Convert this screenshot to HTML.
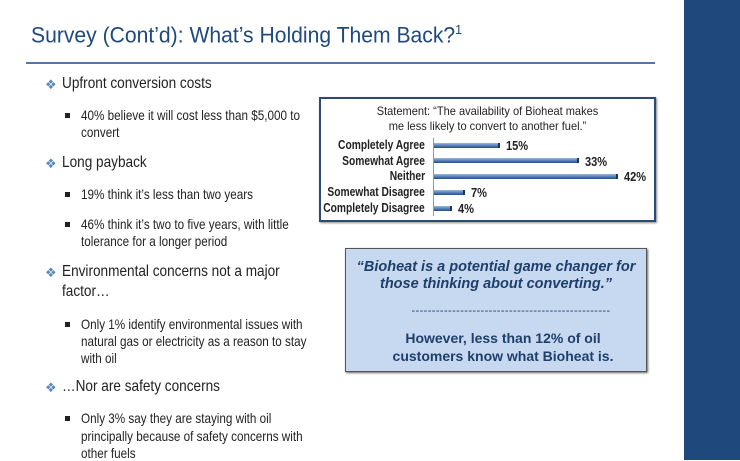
<!DOCTYPE html>
<html><head><meta charset="utf-8"><style>
body{margin:0;width:740px;height:460px;background:#fff;position:relative;overflow:hidden;font-family:"Liberation Sans",sans-serif}
.t{position:absolute;white-space:nowrap;transform-origin:0 50%;color:#222}
.b1{font-size:16px;line-height:16px;transform:scaleX(0.85)}
.b2{font-size:14px;line-height:14px;transform:scaleX(0.835)}
.d{position:absolute;color:#5b87b8;font-size:13px;line-height:13px}
.sq{position:absolute;width:5px;height:5px;background:#222}
.lab{position:absolute;right:315px;font-weight:bold;font-size:12.5px;line-height:12px;white-space:nowrap;transform:scaleX(0.82);transform-origin:100% 50%;color:#222}
.bar{position:absolute;left:434px;height:5px;background:linear-gradient(#9ab8de,#4a78b5 60%,#2a4f80);border-right:2px solid #1d3550}
.val{position:absolute;font-weight:bold;font-size:13px;line-height:12px;transform:scaleX(0.85);transform-origin:0 50%;color:#222}
</style></head><body>
<div style="position:absolute;left:684px;top:0;width:56px;height:460px;background:#1f497d"></div>
<div class="t" style="left:31px;top:19px;font-size:22px;line-height:22px;color:#1f497d;transform:scaleX(0.96)">Survey (Cont’d): What’s Holding Them Back?<sup style="font-size:13px">1</sup></div>
<div style="position:absolute;left:26px;top:62px;width:629px;height:2px;background:#4f77a8"></div>

<div class="d" style="left:45px;top:78px">❖</div><div class="t b1" style="left:62px;top:76px">Upfront conversion costs</div>
<div class="sq" style="left:65px;top:113px"></div>
<div class="t b2" style="left:81px;top:108px">40% believe it will cost less than $5,000 to</div>
<div class="t b2" style="left:81px;top:125px">convert</div>
<div class="d" style="left:45px;top:157px">❖</div><div class="t b1" style="left:62px;top:155px">Long payback</div>
<div class="sq" style="left:65px;top:192px"></div>
<div class="t b2" style="left:81px;top:187px">19% think it’s less than two years</div>
<div class="sq" style="left:65px;top:222px"></div>
<div class="t b2" style="left:81px;top:217px">46% think it’s two to five years, with little</div>
<div class="t b2" style="left:81px;top:234px">tolerance for a longer period</div>
<div class="d" style="left:45px;top:266px">❖</div><div class="t b1" style="left:62px;top:264px">Environmental concerns not a major</div>
<div class="t b1" style="left:62px;top:284px">factor…</div>
<div class="sq" style="left:65px;top:322px"></div>
<div class="t b2" style="left:81px;top:317px">Only 1% identify environmental issues with</div>
<div class="t b2" style="left:81px;top:334px">natural gas or electricity as a reason to stay</div>
<div class="t b2" style="left:81px;top:351px">with oil</div>
<div class="d" style="left:45px;top:381px">❖</div><div class="t b1" style="left:62px;top:379px">…Nor are safety concerns</div>
<div class="sq" style="left:65px;top:416px"></div>
<div class="t b2" style="left:81px;top:411px">Only 3% say they are staying with oil</div>
<div class="t b2" style="left:81px;top:429px">principally because of safety concerns with</div>
<div class="t b2" style="left:81px;top:446px">other fuels</div>

<div style="position:absolute;left:319px;top:97px;width:333px;height:121px;border:2px solid #2a4a7a;box-shadow:1px 1px 2px #888"></div>
<div style="position:absolute;left:321px;top:104px;width:333px;text-align:center;font-size:12px;line-height:15px;color:#222;transform:scaleX(0.92)">Statement: “The availability of Bioheat makes<br>me less likely to convert to another fuel.”</div>
<div style="position:absolute;left:433px;top:138px;width:1px;height:78px;background:#999"></div>
<div class="lab" style="top:139px">Completely Agree</div><div class="bar" style="top:143px;width:64px"></div><div class="val" style="left:506px;top:140px">15%</div>
<div class="lab" style="top:155px">Somewhat Agree</div><div class="bar" style="top:158px;width:143px"></div><div class="val" style="left:585px;top:156px">33%</div>
<div class="lab" style="top:170px">Neither</div><div class="bar" style="top:174px;width:182px"></div><div class="val" style="left:624px;top:171px">42%</div>
<div class="lab" style="top:186px">Somewhat Disagree</div><div class="bar" style="top:190px;width:29px"></div><div class="val" style="left:471px;top:187px">7%</div>
<div class="lab" style="top:202px">Completely Disagree</div><div class="bar" style="top:206px;width:16px"></div><div class="val" style="left:458px;top:203px">4%</div>

<div style="position:absolute;left:345px;top:248px;width:300px;height:122px;background:#c6d9f1;border:1px solid #555;box-shadow:1px 1px 2px #666"></div>
<div style="position:absolute;left:345px;top:259px;width:302px;text-align:center;font-weight:bold;font-style:italic;font-size:14.5px;line-height:17px;color:#1f3f6a">“Bioheat is a potential game changer for<br>those thinking about converting.”</div>
<div style="position:absolute;left:360px;top:305px;width:302px;text-align:center;font-size:11px;color:#1f3f6a;letter-spacing:0.4px">-------------------------------------------------</div>
<div style="position:absolute;left:352px;top:329px;width:302px;text-align:center;font-weight:bold;font-size:14px;line-height:18px;color:#1f3f6a">However, less than 12% of oil<br>customers know what Bioheat is.</div>
</body></html>
